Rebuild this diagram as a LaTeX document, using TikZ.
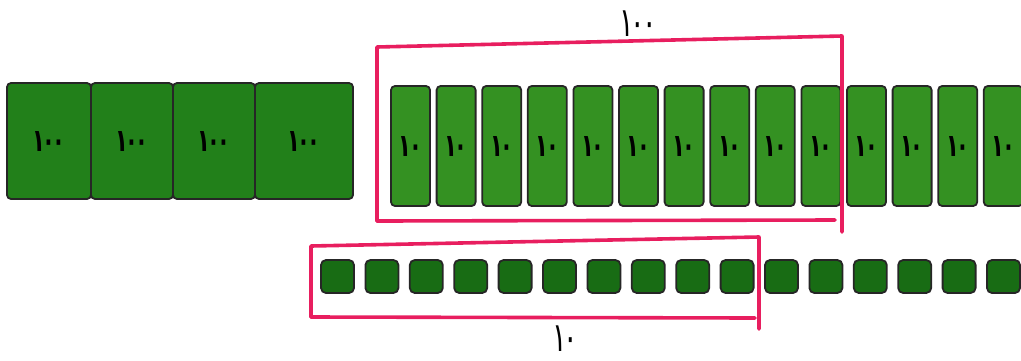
\documentclass[tikz,border=0pt]{standalone}
\usepackage{fontspec}
\newfontfamily\fatight[Script=Arabic, LetterSpace=-12]{DejaVu Sans}
\definecolor{sqgreen}{RGB}{34,128,26}
\definecolor{rodgreen}{RGB}{52,145,34}
\definecolor{cubegreen}{RGB}{24,108,20}
\definecolor{penred}{RGB}{232,30,95}
\newcommand{\lbl}[1]{\scalebox{1}[1.5]{#1}}
\tikzset{
  block/.style={draw=black!85, line width=1.8pt, rounded corners=4pt, inner sep=0pt, font=\fatight\bfseries\fontsize{21}{21}\selectfont},
  bigsq/.style={block, fill=sqgreen, minimum height=116pt},
  rodbox/.style={block, fill=rodgreen, minimum width=39pt, minimum height=120pt},
  cubebox/.style={block, fill=cubegreen, minimum width=33pt, minimum height=33pt, rounded corners=5pt},
  frame/.style={draw=penred, line width=3.6pt, line cap=round, line join=round},
  hand/.style={font=\fatight\fontsize{27}{27}\selectfont, inner sep=0pt}
}
\begin{document}
\begin{tikzpicture}[x=1pt,y=-1pt]
\useasboundingbox (0,0) rectangle (1021,360);
% hundreds
\node[bigsq, minimum width=84pt] (h1) at (49,141) {\lbl{۱۰۰}};
\node[bigsq, minimum width=82pt] (h2) at (132,141) {\lbl{۱۰۰}};
\node[bigsq, minimum width=82pt] (h3) at (214,141) {\lbl{۱۰۰}};
\node[bigsq, minimum width=98pt] (h4) at (304,141) {\lbl{۱۰۰}};
% tens
\foreach \i in {1,...,14}{
  \pgfmathsetmacro{\cx}{391+19.5+45.6*(\i-1)}
  \node[rodbox] (r\i) at (\cx,146) {\lbl{۱۰}};
}
% ones
\foreach \i in {1,...,16}{
  \pgfmathsetmacro{\cx}{321+16.5+44.4*(\i-1)}
  \node[cubebox] (c\i) at (\cx,276.5) {};
}
% red frame round ten rods
\coordinate (ta) at (377,221);
\coordinate (tb) at (377,47);
\coordinate (tc) at (842,36);
\coordinate (td) at (842,232);
\coordinate (te) at (835,220);
\draw[frame] (ta) -- (tb) -- (tc) -- (td);
\draw[frame] (ta) -- (te);
\node[hand] (l100) at (638,24) {\lbl{۱۰۰}};
% red frame round ten cubes
\coordinate (ba) at (311,317);
\coordinate (bb) at (311,246);
\coordinate (bc) at (759,237);
\coordinate (bd) at (759,329);
\coordinate (be) at (755,318);
\draw[frame] (ba) -- (bb) -- (bc) -- (bd);
\draw[frame] (ba) -- (be);
\node[hand] (l10) at (565,339) {\lbl{۱۰}};
\end{tikzpicture}
\end{document}
